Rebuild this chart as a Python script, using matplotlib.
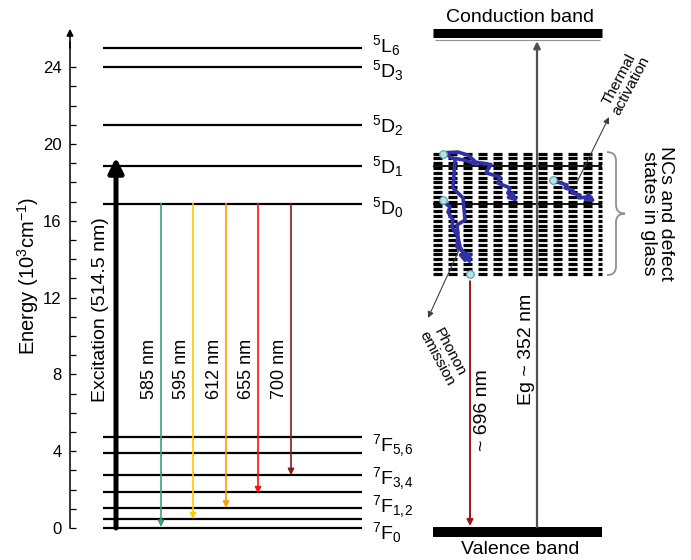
import matplotlib
matplotlib.use("Agg")
import matplotlib.pyplot as plt
from matplotlib.path import Path
from matplotlib.patches import PathPatch

plt.rcParams['font.family'] = ['Liberation Sans', 'DejaVu Sans']
plt.rcParams['mathtext.fontset'] = 'custom'
plt.rcParams['mathtext.rm'] = 'Liberation Sans'
plt.rcParams['mathtext.it'] = 'Liberation Sans:italic'
plt.rcParams['mathtext.default'] = 'regular'
plt.rcParams['lines.scale_dashes'] = False

# ---- data (energies in 10^3 cm^-1) ----
upper_levels = [25.0, 24.0, 21.0, 18.85, 16.9]
upper_labels = ['$^{5}L_{6}$', '$^{5}D_{3}$', '$^{5}D_{2}$', '$^{5}D_{1}$', '$^{5}D_{0}$']
upper_label_pos = [25.15, 23.85, 20.95, 18.85, 16.7]

lower_levels = [4.75, 3.9, 2.75, 1.85, 1.05, 0.45, 0.0]
lower_labels = [r'$^{7}F_{5,\!6}$', r'$^{7}F_{3,\!4}$', r'$^{7}F_{1,\!2}$', '$^{7}F_{0}$']
lower_label_pos = [4.3, 2.55, 1.1, -0.25]

excitation_top = 19.3
emission_labels = ['585 nm', '595 nm', '612 nm', '655 nm', '700 nm']
emission_start = 16.9
emission_end = [0.05, 0.45, 1.05, 1.8, 2.75]
emission_colors = ['#3f9f6f', '#ffcc00', '#ff9900', '#ff1010', '#8b1a1a']

yticks = [0, 4, 8, 12, 16, 20, 24]
yminor = [1, 2, 3, 5, 6, 7, 9, 10, 11, 13, 14, 15, 17, 18, 19, 21, 22, 23]

# glass / nanocrystal side
conduction_band = 25.8
valence_band = -0.22
defect_states = [19.5, 19.25, 19.0, 18.75, 18.5, 18.25, 18.0, 17.75, 17.5,
                 17.25, 17.0, 16.75, 16.5, 16.25, 16.0, 15.75, 15.5, 15.25,
                 15.0, 14.75, 14.5, 14.25, 14.0, 13.75, 13.5, 13.25]
eg_top = 25.35
red_start, red_end = 12.85, 0.1

# hand drawn relaxation paths (x in px, y in energy)
path_a_x = [446, 458, 468, 476, 491, 486, 500, 498, 510, 508, 518]
path_a_y = [19.55, 19.58, 19.42, 19.05, 18.93, 18.5, 18.28, 17.97, 17.71, 17.45, 16.98]
loop_x = [447, 452, 464, 476]
loop_y = [19.45, 19.27, 19.17, 18.96]
path_b_x = [455, 453, 463, 465, 457, 458, 457, 467, 471]
path_b_y = [19.17, 17.71, 17.19, 16.04, 15.78, 15.36, 14.64, 14.22, 13.72]
path_c_x = [445, 450, 448, 453, 452, 458, 460, 463, 466]
path_c_y = [16.93, 16.72, 16.46, 16.04, 15.68, 15.16, 14.64, 14.38, 13.75]
path_d_x = [558, 567, 565, 573, 572, 580, 579, 587, 596]
path_d_y = [18.02, 17.86, 17.71, 17.60, 17.45, 17.34, 17.19, 17.24, 16.98]
dots_x = [443, 443, 470, 553]
dots_y = [19.48, 17.08, 13.23, 18.13]

fig = plt.figure(figsize=(6.91, 5.6), dpi=100)
ax = fig.add_axes([0, 0, 1, 1])
ax.set_xlim(0, 691)
ax.set_ylim(-1.667, 27.5)

# energy axis
for s in ['top', 'right', 'bottom']:
    ax.spines[s].set_visible(False)
ax.spines['left'].set_position(('data', 70))
ax.spines['left'].set_bounds(0, 25.3)
ax.spines['left'].set_linewidth(1.1)
ax.set_xticks([])
ax.set_yticks(yticks)
ax.set_yticks(yminor, minor=True)
ax.tick_params(axis='y', which='both', direction='in', length=4.5, width=0.9,
               labelsize=12, pad=6)
ax.annotate('', xy=(70, 26.0), xytext=(70, 25.0),
            arrowprops=dict(arrowstyle='-|>', color='k', lw=1.1,
                            mutation_scale=10, shrinkA=0, shrinkB=0))
ax.text(28, 13.1, 'Energy (10$^{3}$cm$^{-1}$)', rotation=90, ha='center',
        va='center', fontsize=14.5)

# Eu levels
ax.hlines(upper_levels + lower_levels, 103, 362, color='k', lw=1.6)
for lab, y in zip(upper_labels + lower_labels, upper_label_pos + lower_label_pos):
    ax.text(372, y, lab, ha='left', va='center', fontsize=14)

ax.annotate('', xy=(116, excitation_top), xytext=(116, 0),
            arrowprops=dict(arrowstyle='-|>', color='k', lw=3.6,
                            mutation_scale=22, shrinkA=0, shrinkB=0))
ax.text(101, 11.35, 'Excitation (514.5 nm)', rotation=90, ha='center',
        va='center', fontsize=14)

em_x = [161, 193, 226, 258, 291]
for x, end, c, lab in zip(em_x, emission_end, emission_colors, emission_labels):
    ax.annotate('', xy=(x, end), xytext=(x, emission_start),
                arrowprops=dict(arrowstyle='-|>', color=c, lw=1.2,
                                mutation_scale=9, shrinkA=0, shrinkB=0))
    ax.text(x - 11, 8.3, lab, rotation=90, ha='center', va='center', fontsize=13)

# bands
ax.hlines(conduction_band, 433, 602, color='k', lw=6.5)
ax.hlines(conduction_band - 0.4, 435, 600, color='#909090', lw=0.8)
ax.hlines(valence_band, 433, 602, color='k', lw=7.2)
ax.text(520, 26.6, 'Conduction band', ha='center', va='center', fontsize=14)
ax.text(520, -1.1, 'Valence band', ha='center', va='center', fontsize=14)

# defect states
ax.hlines(defect_states, 433, 602, color='k', lw=2.3, linestyles=[(0, (6.5, 4.3))],
          zorder=1)
ax.hlines([upper_levels[3], upper_levels[4]], 433, 602, color='k', lw=1.3, zorder=2)

ax.annotate('', xy=(537, eg_top), xytext=(537, 0.05),
            arrowprops=dict(arrowstyle='-|>', color='#505050', lw=1.6,
                            mutation_scale=10, shrinkA=0, shrinkB=0), zorder=2)
ax.text(527, 9.3, 'Eg ~ 352 nm', rotation=90, ha='center', va='center', fontsize=14)

ax.annotate('', xy=(470, red_end), xytext=(470, red_start),
            arrowprops=dict(arrowstyle='-|>', color='#a01515', lw=1.4,
                            mutation_scale=9, shrinkA=0, shrinkB=0))
ax.text(483, 6.15, '~ 696 nm', rotation=90, ha='center', va='center', fontsize=14)

# curly brace next to the defect states
top, bot = defect_states[0] + 0.08, defect_states[-1] - 0.08
mid = (top + bot) / 2
bx, bw, r = 607, 18, 0.45
verts = [(bx, top), (bx + bw / 2, top), (bx + bw / 2, top - r),
         (bx + bw / 2, mid + r),
         (bx + bw / 2, mid), (bx + bw, mid),
         (bx + bw / 2, mid), (bx + bw / 2, mid - r),
         (bx + bw / 2, bot + r),
         (bx + bw / 2, bot), (bx, bot)]
codes = [Path.MOVETO, Path.CURVE3, Path.CURVE3, Path.LINETO,
         Path.CURVE3, Path.CURVE3, Path.CURVE3, Path.CURVE3,
         Path.LINETO, Path.CURVE3, Path.CURVE3]
ax.add_patch(PathPatch(Path(verts, codes), fill=False, ec='#909090', lw=1.3))
ax.text(657, mid, 'NCs and defect\nstates in glass', rotation=-90, ha='center',
        va='center', fontsize=14, linespacing=1.0)

# relaxation paths
blue = '#3030aa'
for px, py in [(path_a_x, path_a_y), (path_b_x, path_b_y),
               (path_c_x, path_c_y), (path_d_x, path_d_y)]:
    ax.plot(px[:-1], py[:-1], color=blue, lw=2.6, solid_joinstyle='round',
            solid_capstyle='round', zorder=4)
    ax.annotate('', xy=(px[-1], py[-1]), xytext=(px[-2], py[-2]),
                arrowprops=dict(arrowstyle='-|>', color=blue, lw=2.6,
                                mutation_scale=11, shrinkA=0, shrinkB=0), zorder=4)
ax.plot(loop_x, loop_y, color=blue, lw=2.6, solid_capstyle='round', zorder=4)
ax.scatter(dots_x, dots_y, s=30, facecolor='#b4e3e8', edgecolor='#5a9fa8',
           lw=0.8, zorder=5)

# thermal activation / phonon emission
ax.annotate('', xy=(609, 21.4), xytext=(577, 18.02),
            arrowprops=dict(arrowstyle='-|>', color='#404040', lw=0.8,
                            mutation_scale=9, shrinkA=0, shrinkB=0), zorder=3)
ax.text(625, 23.2, 'Thermal\nactivation', rotation=62, ha='center', va='center',
        fontsize=11, linespacing=1.0)
ax.annotate('', xy=(428, 10.94), xytext=(460, 14.58),
            arrowprops=dict(arrowstyle='-|>', color='#404040', lw=0.8,
                            mutation_scale=9, shrinkA=0, shrinkB=0), zorder=3)
ax.text(443, 9.0, 'Phonon\nemission', rotation=-62, ha='center', va='center',
        fontsize=11, linespacing=1.0)

fig.savefig('out.png', dpi=100)
